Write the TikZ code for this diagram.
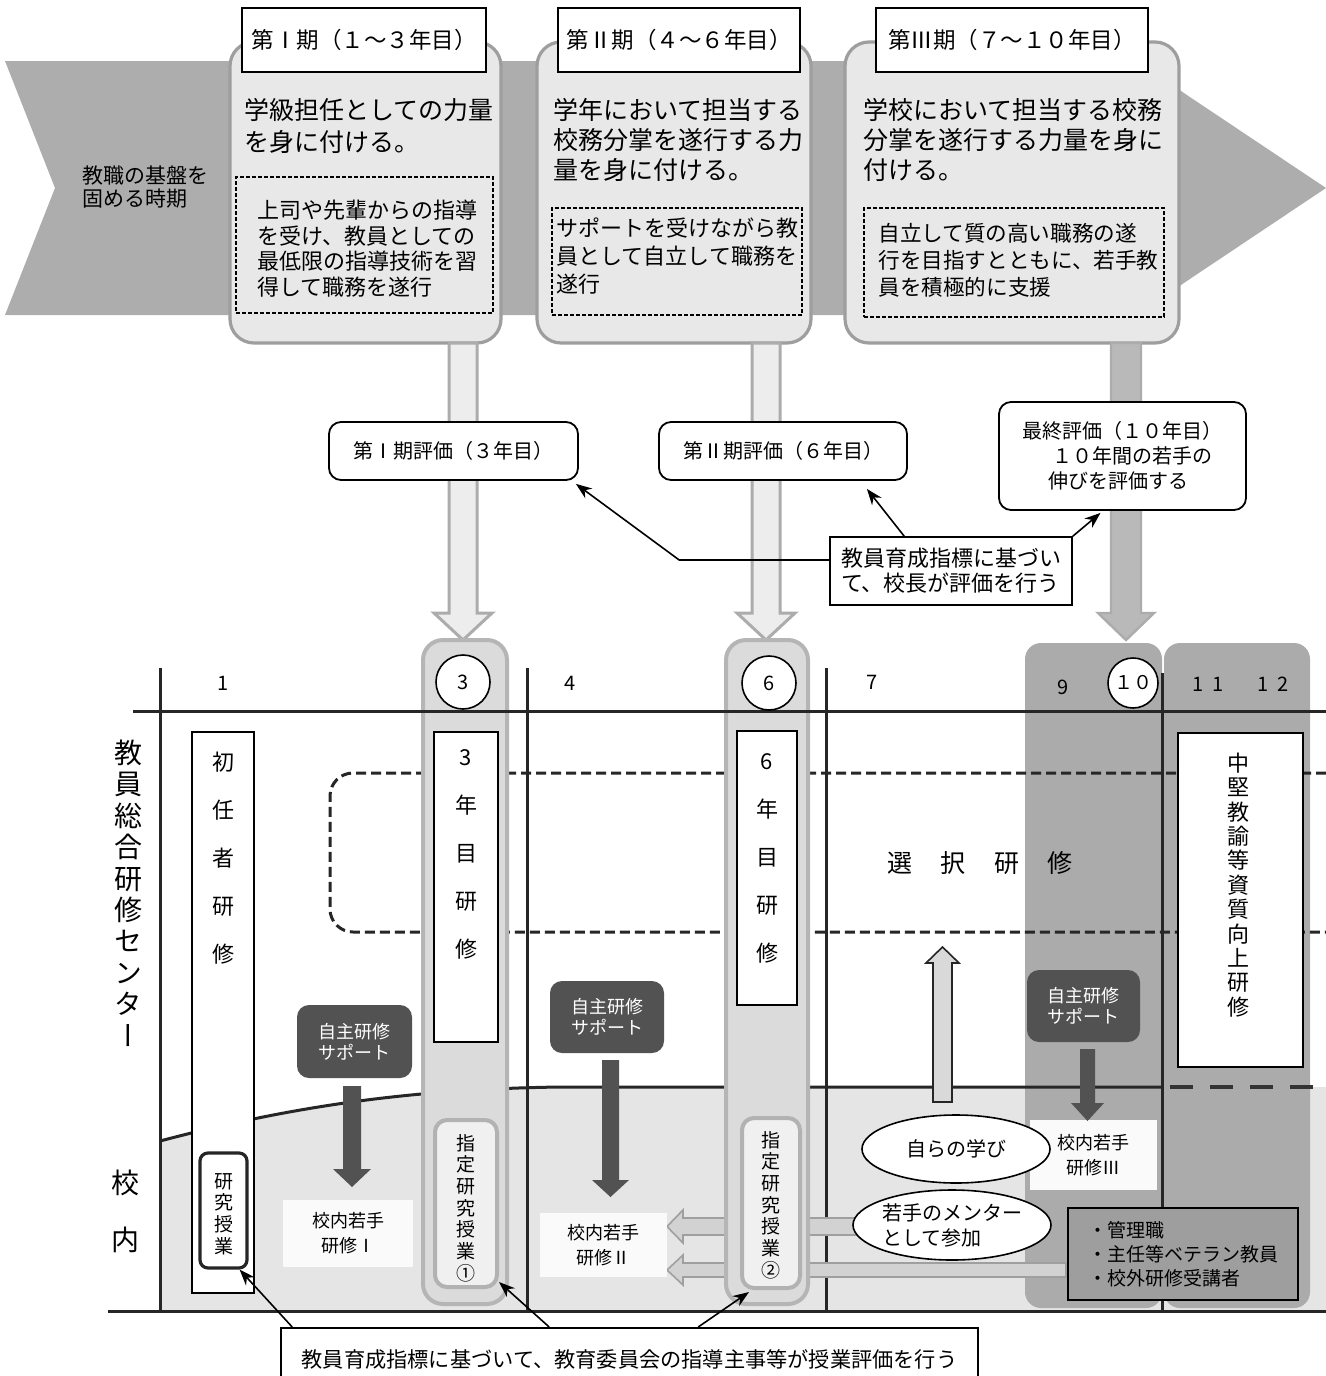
\documentclass[tikz,border=0pt]{standalone}
\usepackage{fontspec}
\setmainfont{Noto Sans CJK JP}
\newfontfamily\jpv[RawFeature=+vert]{Noto Sans CJK JP}
\usetikzlibrary{arrows.meta,shapes.geometric}
\newcommand{\fsz}[2]{\fontsize{#1}{#2}\selectfont}
% style, xc, ytop, yheadbase, ytip, shafthalf, headhalf
\newcommand{\vblockarrow}[7]{\draw[#1] ({#2-#6},#3) -- ({#2-#6},#4) -- ({#2-#7},#4) -- (#2,#5) -- ({#2+#7},#4) -- ({#2+#6},#4) -- ({#2+#6},#3) -- cycle;}
\definecolor{bandc}{gray}{0.68}
\definecolor{phasefill}{gray}{0.91}
\definecolor{phaseline}{gray}{0.62}
\definecolor{regdark}{gray}{0.67}
\definecolor{schoolfill}{gray}{0.90}
\definecolor{pillfill}{gray}{0.86}
\definecolor{darkbox}{gray}{0.32}
\definecolor{mgrfill}{gray}{0.62}
\begin{document}
\begin{tikzpicture}[x=0.5pt,y=-0.5pt,
  phase/.style={rectangle, rounded corners=12pt, draw=phaseline, line width=1.6pt, fill=phasefill, inner sep=0},
  hdr/.style={rectangle, draw=black, line width=0.8pt, fill=white, inner sep=0, font=\fsz{11.25}{13}},
  dbox/.style={rectangle, draw=black, dash pattern=on 2pt off 1pt, line width=0.6pt, inner sep=0},
  hollow/.style={fill=gray!14, draw=gray!65, line width=1.5pt, line join=miter},
  solidarr/.style={fill=gray!55, draw=gray!65, line width=1.2pt, line join=miter},
  evalbox/.style={rectangle, rounded corners=6pt, draw=black, line width=0.9pt, fill=white, inner sep=0, font=\fsz{10}{13}},
  sqbox/.style={rectangle, draw=black, line width=0.8pt, fill=white, inner sep=0},
  ptr/.style={-{Stealth[length=8pt,width=6pt]}, line width=0.8pt},
  gridline/.style={line width=1.5pt, black!85},
  pill/.style={rectangle, rounded corners=10pt, fill=pillfill, draw=gray!58, line width=2pt, inner sep=0},
  circ/.style={circle, draw=black, line width=0.8pt, fill=white, inner sep=0, font=\fsz{10}{12}},
  vbox/.style={rectangle, draw=black, line width=1.2pt, fill=white, inner sep=0},
  vtext/.style={align=center, inner sep=0},
  shitei/.style={rectangle, rounded corners=6pt, fill=gray!12, draw=gray!60, line width=2pt, inner sep=0},
  selfbox/.style={rectangle, rounded corners=6pt, fill=darkbox, text=white, align=center, inner sep=0, font=\fsz{9}{10.5}},
  darkarr/.style={fill=black!68, draw=none},
  kbox/.style={rectangle, fill=gray!4, inner sep=0, align=center, font=\fsz{9}{12.5}},
  lbl/.style={inner sep=0, font=\fsz{10}{12}}
]
\useasboundingbox (0,0) rectangle (1326,1376);
\fill[white] (0,0) rectangle (1326,1376);

% ---------- top band ----------
\fill[bandc] (5,61) -- (1136,61) -- (1326,188) -- (1136,315) -- (5,315) -- (55,188) -- cycle;
\node[anchor=west, align=left, inner sep=0, font=\fsz{10.5}{11.2}] (base) at (82,187) {教職の基盤を\\固める時期};

% phase boxes
\node[phase, minimum width=135.5pt, minimum height=150.5pt] (p1) at (365.5,192.5) {};
\node[phase, minimum width=137pt, minimum height=150.5pt] (p2) at (674,192.5) {};
\node[phase, minimum width=167pt, minimum height=150.5pt] (p3) at (1012,192.5) {};

\node[hdr, minimum width=122pt, minimum height=32pt] (h1) at (364,40) {第Ⅰ期（１～３年目）};
\node[hdr, minimum width=121pt, minimum height=32pt] (h2) at (679,40) {第Ⅱ期（４～６年目）};
\node[hdr, minimum width=136pt, minimum height=32pt] (h3) at (1012,40) {第Ⅲ期（７～１０年目）};

\node[anchor=west, align=left, inner sep=0, font=\fsz{12.5}{16}] (t1) at (244,126) {学級担任としての力量\\を身に付ける。};
\node[anchor=west, align=left, inner sep=0, font=\fsz{12.5}{15}] (t2) at (553,140) {学年において担当する\\校務分掌を遂行する力\\量を身に付ける。};
\node[anchor=west, align=left, inner sep=0, font=\fsz{12.5}{15}] (t3) at (863,140) {学校において担当する校務\\分掌を遂行する力量を身に\\付ける。};

\node[dbox, minimum width=128.5pt, minimum height=68pt] (d1) at (364.5,245) {};
\node[dbox, minimum width=125pt, minimum height=53.5pt] (d2) at (677,261.5) {};
\node[dbox, minimum width=150pt, minimum height=54.5pt] (d3) at (1014,262.5) {};
\node[anchor=west, align=left, inner sep=0, font=\fsz{11}{12.75}] (i1) at (257,248.5) {上司や先輩からの指導\\を受け、教員としての\\最低限の指導技術を習\\得して職務を遂行};
\node[anchor=west, align=left, inner sep=0, font=\fsz{11}{14}] (i2) at (556,256.5) {サポートを受けながら教\\員として自立して職務を\\遂行};
\node[anchor=west, align=left, inner sep=0, font=\fsz{10.8}{13.5}] (i3) at (878,260) {自立して質の高い職務の遂\\行を目指すとともに、若手教\\員を積極的に支援};

% ---------- arrows down from phases ----------
\vblockarrow{hollow}{463}{343}{613}{640}{14}{29}
\vblockarrow{hollow}{766}{343}{613}{640}{14}{29}
\vblockarrow{solidarr}{1126}{343}{613}{640}{15}{28}

% evaluation boxes
\node[evalbox, minimum width=124.5pt, minimum height=29pt] (e1) at (453.5,451) {第Ⅰ期評価（３年目）};
\node[evalbox, minimum width=124pt, minimum height=29pt] (e2) at (783,451) {第Ⅱ期評価（６年目）};
\node[evalbox, minimum width=123.5pt, minimum height=54pt, align=left, font=\fsz{10}{12.5}] (e3) at (1122.5,456) {最終評価（１０年目）\\\hspace{15pt}１０年間の若手の\\\hspace{13pt}伸びを評価する};
\node[sqbox, minimum width=121pt, minimum height=34pt, align=left, font=\fsz{11}{12.5}] (prin) at (951,571) {教員育成指標に基づい\\て、校長が評価を行う};
\draw[ptr] ([yshift=5.5pt]prin.west) -- ++(-150,0) -- ([shift={(-1.5pt,-1.5pt)}]e1.south east);
\draw[ptr] ([xshift=37.5pt]prin.north west) -- ([xshift=-20.5pt,yshift=-4pt]e2.south east);
\draw[ptr] (prin.north east) -- ([xshift=-11pt,yshift=-1pt]e3.south);

% ---------- lower section ----------
\fill[schoolfill] (160,1141) .. controls (300,1104) and (420,1089) .. (560,1087) -- (1326,1087) -- (1326,1311) -- (160,1311) -- cycle;
\fill[regdark, rounded corners=8pt] (1025,643) rectangle (1162,1308);
\fill[regdark, rounded corners=8pt] (1164,643) rectangle (1310,1308);

\draw[line width=1.5pt, black!85] (160,1141) .. controls (300,1104) and (420,1089) .. (560,1087) -- (1162,1087);
\draw[line width=2pt, black!80, dash pattern=on 11.5pt off 8.5pt] (1170,1087) -- (1326,1087);
\draw[line width=1.5pt, black!85, dash pattern=on 5pt off 2.5pt, rounded corners=11.5pt] (1326,773) -- (330,773) -- (330,932) -- (1326,932);

\draw[gridline] (160,668) -- (160,1311);
\draw[gridline] (527,668) -- (527,1311);
\draw[gridline] (826,668) -- (826,1311);
\draw[gridline] (1162,673) -- (1162,1311);
\draw[gridline] (108,1311) -- (1326,1311);

% left hollow arrows towards 校内若手研修II
\draw[fill=gray!35, draw=gray!75, line width=0.8pt] (857,1218) -- (683,1218) -- (683,1210) -- (667,1226.5) -- (683,1243) -- (683,1235) -- (857,1235) -- cycle;
\draw[fill=gray!35, draw=gray!75, line width=0.8pt] (1066,1263) -- (683,1263) -- (683,1255) -- (667,1270) -- (683,1285) -- (683,1277) -- (1066,1277) -- cycle;

% pills
\node[pill, minimum width=42pt, minimum height=332pt] (pill3) at (465,972) {};
\node[pill, minimum width=41pt, minimum height=332pt] (pill6) at (767,972) {};

\draw[gridline] (133,711) -- (1326,711);

% year numbers
\node[circ, minimum size=27pt] (c3) at (463,682) {3};
\node[circ, minimum size=27pt] (c6) at (769,683) {6};
\node[circ, minimum size=25pt, font=\fsz{9.5}{11}] (c10) at (1133,683) {１０};
\node[lbl] (n1) at (223,683) {1};
\node[lbl] (n4) at (570,683) {4};
\node[lbl] (n7) at (872,682) {7};
\node[lbl] (n9) at (1063,687) {9};
\node[lbl] (n11) at (1208,684) {1\hspace{4pt}1};
\node[lbl] (n12) at (1273,684) {1\hspace{4pt}2};

% side labels
\node[vtext, font=\jpv\fsz{14}{15.7}] (center) at (128,893) {教\\員\\総\\合\\研\\修\\セ\\ン\\タ\\ー};
\node[vtext, font=\fsz{14}{28.5}] (school) at (125,1211) {校\\内};

% vertical training boxes
\node[vbox, minimum width=31pt, minimum height=280.5pt] (shonin) at (223,1012.5) {};
\node[vtext, font=\fsz{11}{24}] at (223,858) {初\\任\\者\\研\\修};
\node[vbox, minimum width=32pt, minimum height=155pt] (y3) at (466,887) {};
\node[vtext, font=\fsz{11}{24}] at (466,854) {3\\年\\目\\研\\修};
\node[vbox, minimum width=30pt, minimum height=137pt] (y6) at (767,868) {};
\node[vtext, font=\fsz{11}{24}] at (767,858) {6\\年\\目\\研\\修};
\node[vbox, minimum width=62.5pt, minimum height=167pt] (chuken) at (1240.5,900) {};
\node[vtext, font=\fsz{11}{12.2}] at (1238,885) {中\\堅\\教\\諭\\等\\資\\質\\向\\上\\研\\修};

\node[font=\fsz{12.5}{15}, inner sep=0] (sentaku) at (980,863) {選\hspace{14.25pt}択\hspace{14.25pt}研\hspace{14.25pt}修};

% designated lessons
\node[shitei, minimum width=31pt, minimum height=83.5pt] (sh1) at (466,1203.5) {};
\node[vtext, font=\jpv\fsz{9.5}{10.85}] at (466,1208) {指\\定\\研\\究\\授\\業\\①};
\node[shitei, minimum width=29pt, minimum height=85pt] (sh2) at (771,1203) {};
\node[vtext, font=\jpv\fsz{9.5}{10.85}] at (771,1205) {指\\定\\研\\究\\授\\業\\②};
\node[rectangle, rounded corners=4pt, fill=white, draw=black!85, line width=1.6pt, minimum width=23.5pt, minimum height=57.5pt, inner sep=0] (ken) at (223.5,1210.5) {};
\node[vtext, font=\jpv\fsz{9.5}{10.85}] at (224,1214) {研\\究\\授\\業};

% self-study support
\node[selfbox, minimum width=57.5pt, minimum height=36.5pt] (sA) at (354.5,1041.5) {自主研修\\サポート};
\node[selfbox, minimum width=57pt, minimum height=36pt] (sB) at (607,1017) {自主研修\\サポート};
\node[selfbox, minimum width=56.5pt, minimum height=36pt] (sC) at (1083.5,1006) {自主研修\\サポート};

% school trainings
\node[kbox, minimum width=65pt, minimum height=33.5pt] (kI) at (348,1233.5) {校内若手\\研修Ⅰ};
\node[kbox, minimum width=63.5pt, minimum height=32pt] (kII) at (603.5,1245) {校内若手\\研修Ⅱ};
\node[kbox, minimum width=63.5pt, minimum height=35pt] (kIII) at (1093.5,1155) {校内若手\\研修Ⅲ};

\vblockarrow{darkarr}{352}{1086}{1169}{1187}{9}{19}
\vblockarrow{darkarr}{610.5}{1060}{1180}{1197}{8.5}{18.5}
\vblockarrow{darkarr}{1087.5}{1049}{1103}{1121}{7.5}{16.5}

% upward arrow
\draw[fill=gray!30, draw=black!85, line width=0.8pt, line join=miter] (933,1102) -- (933,963) -- (926,963) -- (942.5,947) -- (959,963) -- (952,963) -- (952,1102) -- cycle;

% ellipses
\node[ellipse, draw=black, line width=0.8pt, fill=white, minimum width=94pt, minimum height=34pt, inner sep=0, font=\fsz{10}{12}] (own) at (956,1149) {自らの学び};
\node[ellipse, draw=black, line width=0.8pt, fill=white, minimum width=93pt, minimum height=35pt, inner sep=0, align=left, font=\fsz{10}{12.5}] (mentor) at (952,1225) {若手のメンター\\として参加};

% managers
\node[rectangle, fill=mgrfill, draw=black, line width=0.8pt, minimum width=115pt, minimum height=46pt, inner sep=0, align=left, font=\fsz{9.5}{12}] (mgr) at (1183,1254) {・管理職\\・主任等ベテラン教員\\・校外研修受講者};

% bottom box
\node[sqbox, anchor=north, minimum width=348.5pt, minimum height=32pt, font=\fsz{10.6}{12}] (bot) at (629.5,1327) {教員育成指標に基づいて、教育委員会の指導主事等が授業評価を行う};
\draw[ptr] ([xshift=6pt]bot.north west) -- ([xshift=-4.5pt]ken.south east);
\draw[ptr] ([xshift=134.5pt]bot.north west) -- ([yshift=3.5pt]sh1.south east);
\draw[ptr] ([xshift=209pt]bot.north west) -- ([xshift=-11pt,yshift=-1pt]sh2.south);
\end{tikzpicture}
\end{document}
